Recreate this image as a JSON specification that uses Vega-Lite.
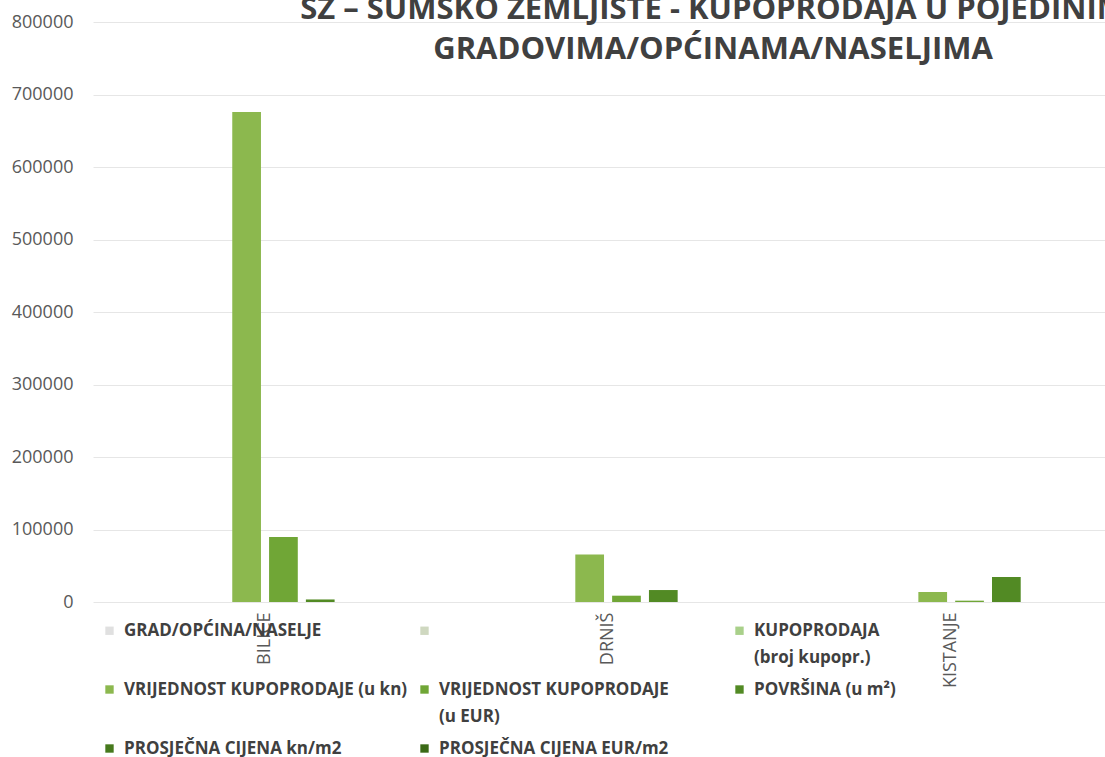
{
  "$schema": "https://vega.github.io/schema/vega-lite/v6.json",
  "autosize": "none",
  "width": 1012,
  "height": 580,
  "padding": {"left": 93, "top": 22, "right": 0, "bottom": 155},
  "background": "white",
  "title": {
    "text": ["SZ – ŠUMSKO ZEMLJIŠTE - KUPOPRODAJA  U POJEDINIM", "GRADOVIMA/OPĆINAMA/NASELJIMA"],
    "anchor": "middle",
    "frame": "group",
    "font": "Open Sans",
    "fontSize": 31,
    "fontWeight": "bold",
    "color": "#404040",
    "dx": 114,
    "dy": 53,
    "offset": 0,
    "lineHeight": 40
  },
  "data": {
    "values": [
      {"mjesto": "BILICE", "serija": "GRAD/OPĆINA/NASELJE", "vrijednost": 0},
      {"mjesto": "BILICE", "serija": "PRAZNO", "vrijednost": 0},
      {"mjesto": "BILICE", "serija": "KUPOPRODAJA (broj kupopr.)", "vrijednost": 3},
      {"mjesto": "BILICE", "serija": "VRIJEDNOST KUPOPRODAJE (u kn)", "vrijednost": 676000},
      {"mjesto": "BILICE", "serija": "VRIJEDNOST KUPOPRODAJE (u EUR)", "vrijednost": 89700},
      {"mjesto": "BILICE", "serija": "POVRŠINA (u m²)", "vrijednost": 3500},
      {"mjesto": "BILICE", "serija": "PROSJEČNA CIJENA kn/m2", "vrijednost": 19},
      {"mjesto": "BILICE", "serija": "PROSJEČNA CIJENA EUR/m2", "vrijednost": 2.6},
      {"mjesto": "DRNIŠ", "serija": "GRAD/OPĆINA/NASELJE", "vrijednost": 0},
      {"mjesto": "DRNIŠ", "serija": "PRAZNO", "vrijednost": 0},
      {"mjesto": "DRNIŠ", "serija": "KUPOPRODAJA (broj kupopr.)", "vrijednost": 6},
      {"mjesto": "DRNIŠ", "serija": "VRIJEDNOST KUPOPRODAJE (u kn)", "vrijednost": 65500},
      {"mjesto": "DRNIŠ", "serija": "VRIJEDNOST KUPOPRODAJE (u EUR)", "vrijednost": 8700},
      {"mjesto": "DRNIŠ", "serija": "POVRŠINA (u m²)", "vrijednost": 16500},
      {"mjesto": "DRNIŠ", "serija": "PROSJEČNA CIJENA kn/m2", "vrijednost": 4},
      {"mjesto": "DRNIŠ", "serija": "PROSJEČNA CIJENA EUR/m2", "vrijednost": 0.5},
      {"mjesto": "KISTANJE", "serija": "GRAD/OPĆINA/NASELJE", "vrijednost": 0},
      {"mjesto": "KISTANJE", "serija": "PRAZNO", "vrijednost": 0},
      {"mjesto": "KISTANJE", "serija": "KUPOPRODAJA (broj kupopr.)", "vrijednost": 4},
      {"mjesto": "KISTANJE", "serija": "VRIJEDNOST KUPOPRODAJE (u kn)", "vrijednost": 13800},
      {"mjesto": "KISTANJE", "serija": "VRIJEDNOST KUPOPRODAJE (u EUR)", "vrijednost": 1830},
      {"mjesto": "KISTANJE", "serija": "POVRŠINA (u m²)", "vrijednost": 34500},
      {"mjesto": "KISTANJE", "serija": "PROSJEČNA CIJENA kn/m2", "vrijednost": 0.4},
      {"mjesto": "KISTANJE", "serija": "PROSJEČNA CIJENA EUR/m2", "vrijednost": 0.05}
    ]
  },
  "mark": {"type": "bar"},
  "encoding": {
    "x": {
      "field": "mjesto",
      "type": "nominal",
      "sort": ["BILICE", "DRNIŠ", "KISTANJE"],
      "scale": {"paddingInner": 0.165, "paddingOuter": 0.0575, "align": 0.73},
      "axis": {
        "title": null,
        "labelAngle": 270,
        "labelFont": "Open Sans",
        "labelFontSize": 18,
        "labelColor": "#595959",
        "labelPadding": 10,
        "ticks": false,
        "domain": false
      }
    },
    "xOffset": {
      "field": "serija",
      "type": "nominal",
      "sort": ["GRAD/OPĆINA/NASELJE", "PRAZNO", "KUPOPRODAJA (broj kupopr.)", "VRIJEDNOST KUPOPRODAJE (u kn)", "VRIJEDNOST KUPOPRODAJE (u EUR)", "POVRŠINA (u m²)", "PROSJEČNA CIJENA kn/m2", "PROSJEČNA CIJENA EUR/m2"],
      "scale": {"paddingInner": 0.22, "paddingOuter": 0}
    },
    "y": {
      "field": "vrijednost",
      "type": "quantitative",
      "scale": {"domain": [0, 800000]},
      "axis": {
        "title": null,
        "values": [0, 100000, 200000, 300000, 400000, 500000, 600000, 700000, 800000],
        "format": "d",
        "labelFont": "Open Sans",
        "labelFontSize": 18,
        "labelColor": "#595959",
        "labelPadding": 20,
        "ticks": false,
        "domain": false,
        "gridColor": "#e6e6e6",
        "gridWidth": 1
      }
    },
    "color": {
      "field": "serija",
      "type": "nominal",
      "scale": {
        "domain": ["GRAD/OPĆINA/NASELJE", "PRAZNO", "KUPOPRODAJA (broj kupopr.)", "VRIJEDNOST KUPOPRODAJE (u kn)", "VRIJEDNOST KUPOPRODAJE (u EUR)", "POVRŠINA (u m²)", "PROSJEČNA CIJENA kn/m2", "PROSJEČNA CIJENA EUR/m2"],
        "range": ["#e0e0e0", "#cfd8c0", "#a9d08a", "#8cb84e", "#70a636", "#528a24", "#46791d", "#3b6a17"]
      },
      "legend": {
        "title": null,
        "orient": "none",
        "legendX": 8,
        "legendY": 600,
        "direction": "horizontal",
        "columns": 3,
        "gridAlign": "all",
        "columnPadding": 8,
        "rowPadding": 14,
        "symbolType": "square",
        "symbolSize": 70,
        "symbolStrokeWidth": 0,
        "labelFont": "Open Sans",
        "labelFontSize": 17,
        "labelFontWeight": "bold",
        "labelColor": "#404040",
        "labelLimit": 400,
        "labelOffset": 6,
        "labelExpr": "datum.label == 'PRAZNO' ? ['', ''] : datum.label == 'KUPOPRODAJA (broj kupopr.)' ? ['KUPOPRODAJA', '(broj kupopr.)'] : datum.label == 'VRIJEDNOST KUPOPRODAJE (u EUR)' ? ['VRIJEDNOST KUPOPRODAJE', '(u EUR)'] : indexof(['GRAD/OPĆINA/NASELJE', 'VRIJEDNOST KUPOPRODAJE (u kn)', 'POVRŠINA (u m²)'], datum.label) >= 0 ? [datum.label, ''] : datum.label"
      }
    }
  },
  "config": {
    "view": {"stroke": null},
    "style": {"guide-label": {"lineHeight": 27}}
  }
}
